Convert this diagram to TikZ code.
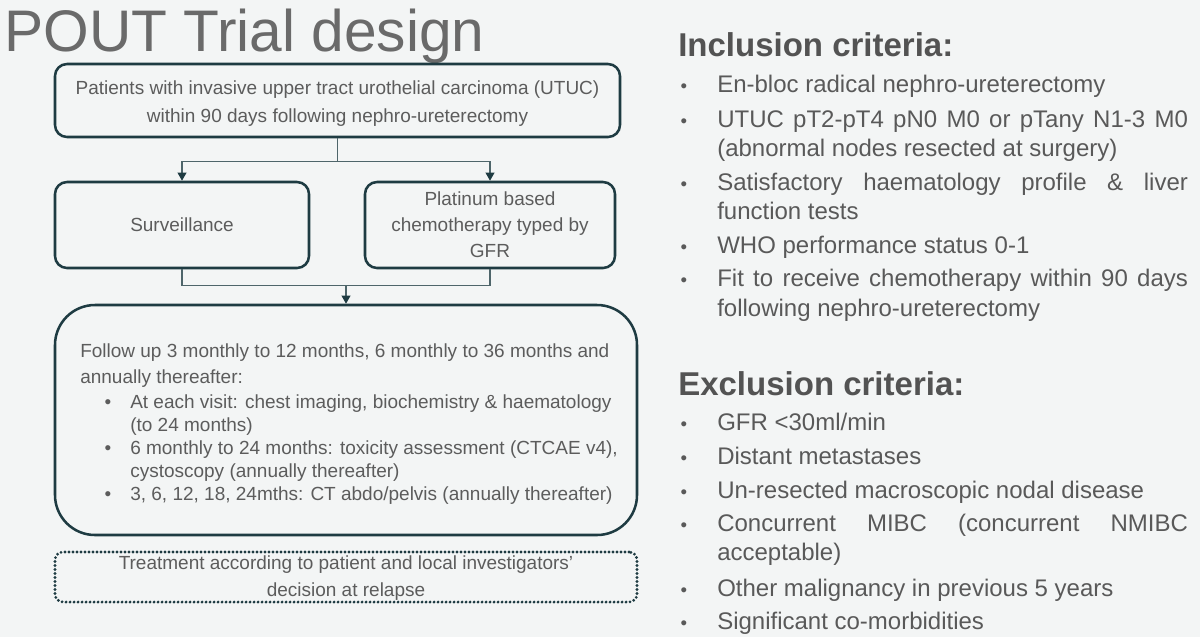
\documentclass[tikz,border=0pt]{standalone}
\usepackage{fontspec}
\setmainfont{Liberation Sans}
\usetikzlibrary{arrows.meta,calc,fit}
\definecolor{bg}{HTML}{F3F5F5}
\definecolor{boxc}{HTML}{1E3B42}
\definecolor{linec}{HTML}{4E656A}
\definecolor{txtc}{HTML}{5C5C5C}
\definecolor{critc}{HTML}{595959}
\definecolor{headc}{HTML}{535353}
\definecolor{titlec}{HTML}{6A6A6A}
\newcommand\ftext{\fontsize{14.25pt}{20.25pt}\selectfont}
\newcommand\fcrit{\fontsize{18pt}{22pt}\selectfont}
\newcommand\fhead{\bfseries\fontsize{24.75pt}{28pt}\selectfont}
\newcommand\ftitle{\fontsize{44pt}{50pt}\selectfont}
\tikzset{
  box/.style={draw=boxc, line width=1.9pt, rounded corners=9pt, inner sep=0pt},
  btxt/.style={inner sep=0pt, text=txtc, align=center, font=\ftext},
  conn/.style={draw=linec, line width=1.1pt},
  arr/.style={conn, -{Triangle[length=6pt,width=6.5pt,color=boxc]}},
  fl/.style={anchor=west, inner sep=0pt, font=\ftext, text=txtc, text height=0.75em, text depth=0.25em},
  flb/.style={inner sep=0pt, font=\ftext, text=txtc},
  crit/.style={anchor=west, inner sep=0pt, font=\fcrit, text=critc, text height=0.75em, text depth=0.25em},
  critb/.style={inner sep=0pt, font=\fontsize{14pt}{16pt}\selectfont, text=critc},
  head/.style={anchor=west, inner sep=0pt, font=\fhead, text=headc},
}
\newcommand\jst[1]{\makebox[353pt][s]{#1}}
\begin{document}
\begin{tikzpicture}[x=0.75pt,y=-0.75pt]
\path[use as bounding box, fill=bg] (0,0) rectangle (1200,637);

% title
\node[anchor=base west, inner sep=0pt, font=\ftitle, text=titlec] (title) at (4,51) {POUT Trial design};

% flowchart boxes
\node[box, fit={(55,64)(620,137)}] (top) {};
\node[btxt, font=\fontsize{14.25pt}{20.5pt}\selectfont] (toptxt) at ($(top.center)+(0,3)$) {Patients with invasive upper tract urothelial carcinoma (UTUC)\\within 90 days following nephro-ureterectomy};
\node[box, fit={(55,182)(309,268)}] (surv) {};
\node[btxt] (survtxt) at (surv.center) {Surveillance};
\node[box, fit={(365,182)(615,268)}] (plat) {};
\node[btxt, font=\fontsize{14.25pt}{19.5pt}\selectfont] (plattxt) at (plat.center) {Platinum based\\chemotherapy typed by\\GFR};
\node[box, rounded corners=30pt, fit={(55,305)(637,535)}] (fu) {};
\node[box, rounded corners=6pt, line width=2.3pt, dash pattern=on 0pt off 3pt, line cap=round, fit={(55,552)(637,602)}] (treat) {};
\node[btxt, font=\fontsize{14.25pt}{20.5pt}\selectfont] (treattxt) at ($(treat.center)+(0,1)$) {Treatment according to patient and local investigators'\\decision at relapse};

% connectors
\coordinate (j1) at ($(top.south)+(0,23)$);
\draw[conn] (top.south) -- (j1);
\draw[arr] (j1) -| (surv.north);
\draw[arr] (j1) -| (plat.north);
\coordinate (j2) at ($(fu.north)+(0,-18)$);
\draw[conn] (surv.south) |- (j2) -| (plat.south);
\draw[arr] (j2) -- (fu.north);

% follow-up text
\node[fl] (f1) at (80,354) {Follow up 3 monthly to 12 months, 6 monthly to 36 months and};
\node[fl] (f2) at (80,380) {annually thereafter:};
\node[flb] (b1) at (108,404) {•};
\node[fl] (f3) at (130,405) {At each visit: chest imaging, biochemistry \& haematology};
\node[fl] (f4) at (130,428) {(to 24 months)};
\node[flb] (b2) at (108,450) {•};
\node[fl] (f5) at (130,451) {6 monthly to 24 months: toxicity assessment (CTCAE v4),};
\node[fl] (f6) at (130,474) {cystoscopy (annually thereafter)};
\node[flb] (b3) at (108,496) {•};
\node[fl] (f7) at (130,497) {3, 6, 12, 18, 24mths: CT abdo/pelvis (annually thereafter)};

% inclusion criteria
\node[head] (inc) at (678,45) {Inclusion criteria:};
\node[critb] (ib1) at (684,88) {•};
\node[crit] (i1) at (717,89) {En-bloc radical nephro-ureterectomy};
\node[critb] (ib2) at (684,123) {•};
\node[crit] (i2) at (717,124) {\jst{UTUC pT2-pT4 pN0 M0 or pTany N1-3 M0}};
\node[crit] (i3) at (717,153) {(abnormal nodes resected at surgery)};
\node[critb] (ib3) at (684,186) {•};
\node[crit] (i4) at (717,187) {\jst{Satisfactory haematology profile \& liver}};
\node[crit] (i5) at (717,216) {function tests};
\node[critb] (ib4) at (684,249) {•};
\node[crit] (i6) at (717,250) {WHO performance status 0-1};
\node[critb] (ib5) at (684,282) {•};
\node[crit] (i7) at (717,283) {\jst{Fit to receive chemotherapy within 90 days}};
\node[crit] (i8) at (717,313) {following nephro-ureterectomy};

% exclusion criteria
\node[head] (exc) at (678,384) {Exclusion criteria:};
\node[critb] (eb1) at (684,426) {•};
\node[crit] (e1) at (717,427) {GFR <30ml/min};
\node[critb] (eb2) at (684,460) {•};
\node[crit] (e2) at (717,461) {Distant metastases};
\node[critb] (eb3) at (684,494) {•};
\node[crit] (e3) at (717,495) {Un-resected macroscopic nodal disease};
\node[critb] (eb4) at (684,527) {•};
\node[crit] (e4) at (717,528) {\jst{Concurrent MIBC (concurrent NMIBC}};
\node[crit] (e5) at (717,557) {acceptable)};
\node[critb] (eb5) at (684,592) {•};
\node[crit] (e6) at (717,593) {Other malignancy in previous 5 years};
\node[critb] (eb6) at (684,625) {•};
\node[crit] (e7) at (717,626) {Significant co-morbidities};
\end{tikzpicture}
\end{document}
